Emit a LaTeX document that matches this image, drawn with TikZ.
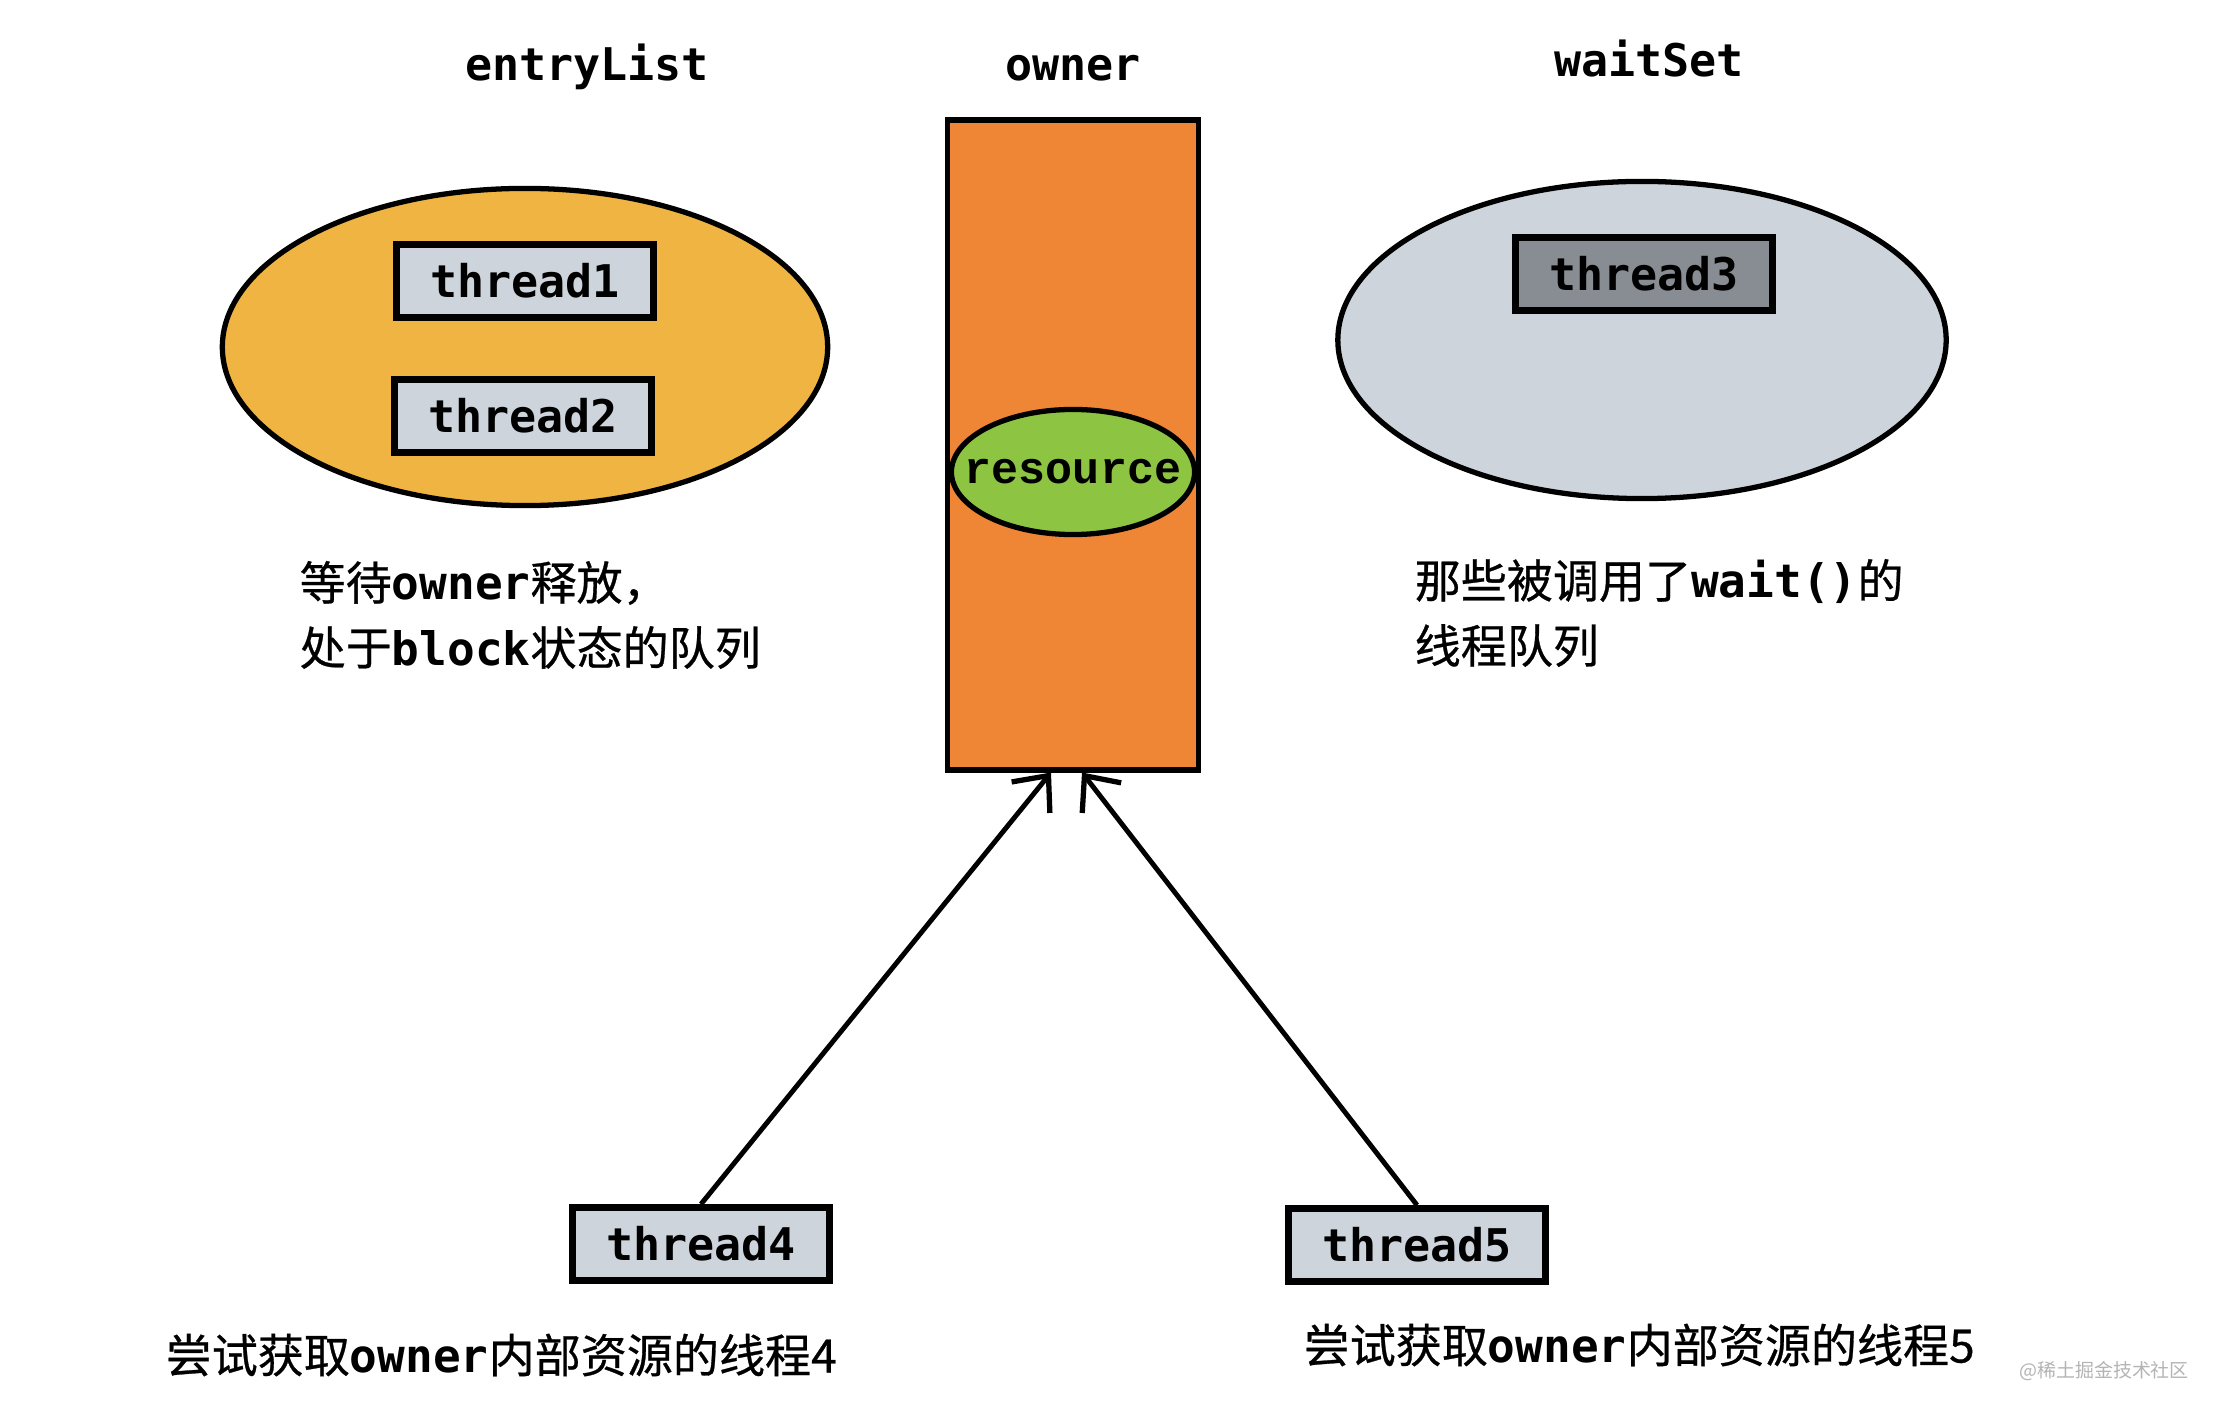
\documentclass[tikz,border=0pt]{standalone}
\usepackage{fontspec}
\setmonofont{DejaVu Sans Mono}
\newfontfamily\zhfont{Noto Sans CJK SC}[FakeBold=0.6]
\newfontfamily\courfont{Liberation Mono}
\usetikzlibrary{shapes.geometric,arrows.meta,calc}
\definecolor{entryfill}{HTML}{F0B443}
\definecolor{ownerfill}{HTML}{EE8636}
\definecolor{resfill}{HTML}{8DC441}
\definecolor{lightbox}{HTML}{CED4DC}
\definecolor{darkbox}{HTML}{888C93}
\definecolor{wmark}{HTML}{B4B4B4}
\tikzset{
  setellipse/.style={ellipse, draw, line width=1.5pt, inner sep=0pt},
  threadbox/.style={rectangle, draw, line width=1.9pt, fill=lightbox, inner sep=0pt,
    minimum width=2.57cm, minimum height=0.73cm,
    font=\ttfamily\bfseries\fontsize{12.8}{15}\selectfont},
  titlelabel/.style={anchor=base, font=\ttfamily\bfseries\fontsize{12.8}{15}\selectfont},
  caption/.style={anchor=west, align=left, inner sep=0pt,
    font=\fontsize{13.1}{18.5}\selectfont},
  grab/.style={line width=1.4pt, -{Straight Barb[length=8pt,width=14pt,line width=1.5pt]}},
}
\newcommand\zhtxt[1]{{\zhfont #1}}
\newcommand\mtxt[1]{{\ttfamily\bfseries #1}}
\begin{document}
\begin{tikzpicture}[x=0.01cm,y=-0.01cm]
\useasboundingbox (0,0) rectangle (2218,1416);
\fill[white] (0,0) rectangle (2218,1416);

% titles
\node[titlelabel] (tEntry) at (587,81) {entryList};
\node[titlelabel] (tOwner) at (1073,81) {owner};
\node[titlelabel] (tWait) at (1649,77) {waitSet};

% entryList ellipse
\node[setellipse, fill=entryfill, minimum width=6.05cm, minimum height=3.17cm] (entry) at (525,347) {};
\node[threadbox] (t1) at (525,281) {thread1};
\node[threadbox] (t2) at (523,416) {thread2};

% owner
\node[rectangle, draw, line width=1.6pt, fill=ownerfill, minimum width=2.51cm, minimum height=6.49cm, inner sep=0pt] (owner) at (1073,445) {};
\node[setellipse, fill=resfill, minimum width=2.43cm, minimum height=1.25cm,
  inner xsep=-0.25cm, inner ysep=0pt,
  font=\courfont\bfseries\fontsize{12.8}{15}\selectfont] (res) at (1073,472) {resource};

% waitSet ellipse
\node[setellipse, fill=lightbox, minimum width=6.08cm, minimum height=3.17cm] (wait) at (1642,340) {};
\node[threadbox, fill=darkbox] (t3) at (1644,274) {thread3};

% captions
\node[caption] (capEntry) at (299,615) {\zhtxt{等待}\mtxt{owner}\zhtxt{释放，}\\\zhtxt{处于}\mtxt{block}\zhtxt{状态的队列}};
\node[caption] (capWait) at (1414,613) {\zhtxt{那些被调用了}\mtxt{wait()}\zhtxt{的}\\\zhtxt{线程队列}};

% threads 4 and 5
\node[threadbox] (t4) at (701,1244) {thread4};
\node[threadbox] (t5) at (1417,1245) {thread5};

\draw[grab] (t4.north) -- ([xshift=-0.22cm]owner.south);
\draw[grab] (t5.north) -- ([xshift=0.09cm]owner.south);

\node[caption] (cap4) at (165,1355) {\zhtxt{尝试获取}\mtxt{owner}\zhtxt{内部资源的线程4}};
\node[caption] (cap5) at (1303,1345) {\zhtxt{尝试获取}\mtxt{owner}\zhtxt{内部资源的线程5}};

\node[anchor=center, text=wmark, inner sep=0pt, font=\fontspec{Noto Sans CJK SC}\fontsize{5.4}{6}\selectfont] (wm) at (2104,1371) {@稀土掘金技术社区};
\end{tikzpicture}
\end{document}
